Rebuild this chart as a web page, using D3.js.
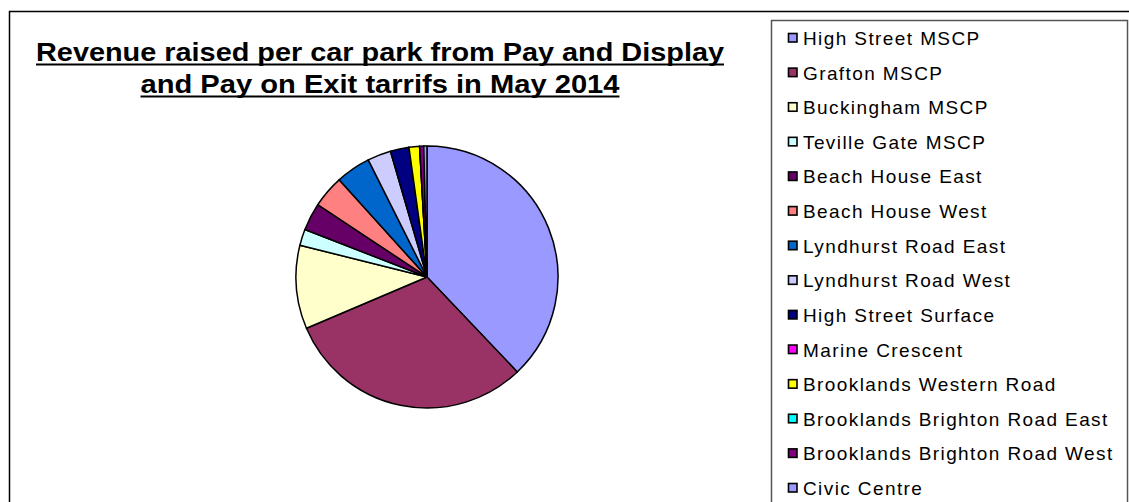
<!DOCTYPE html>
<html>
<head>
<meta charset="utf-8">
<script src="https://cdn.jsdelivr.net/npm/d3@7"></script>
<style>
  html, body { margin: 0; padding: 0; background: #fff; }
  svg { display: block; }
</style>
</head>
<body>
<svg id="chart" width="1129" height="502"></svg>
<script>
const categories = [
  "High Street MSCP", "Grafton MSCP", "Buckingham MSCP", "Teville Gate MSCP",
  "Beach House East", "Beach House West", "Lyndhurst Road East", "Lyndhurst Road West",
  "High Street Surface", "Marine Crescent", "Brooklands Western Road",
  "Brooklands Brighton Road East", "Brooklands Brighton Road West", "Civic Centre"
];
const values = [37.9, 30.7, 10.3, 2.0, 3.4, 4.0, 4.3, 2.9, 2.3, 0.0, 1.3, 0.0, 0.5, 0.4];
const colors = [
  "#9999FF", "#993366", "#FFFFCC", "#CCFFFF", "#660066", "#FF8080", "#0066CC",
  "#CCCCFF", "#000080", "#FF00FF", "#FFFF00", "#00FFFF", "#800080", "#9999FF"
];
const titleLines = [
  "Revenue raised per car park from Pay and Display",
  "and Pay on Exit tarrifs in May 2014"
];

const svg = d3.select("#chart");

// outer chart border
svg.append("rect").attr("x", 9.5).attr("y", 11.5).attr("width", 1140).attr("height", 520)
  .attr("fill", "#fff").attr("stroke", "#000").attr("stroke-width", 1.5);

// title
const title = svg.append("g");
const titleY = [61, 93];
const titleW = [688, 479];
titleLines.forEach((t, i) => {
  title.append("text")
    .attr("x", 380).attr("y", titleY[i])
    .attr("text-anchor", "middle")
    .attr("font-family", "Liberation Sans, Arial, sans-serif")
    .attr("font-weight", "bold")
    .attr("font-size", 25)
    .attr("textLength", titleW[i])
    .attr("lengthAdjust", "spacingAndGlyphs")
    .attr("fill", "#000")
    .text(t);
  title.append("line")
    .attr("x1", 380 - titleW[i] / 2).attr("x2", 380 + titleW[i] / 2)
    .attr("y1", titleY[i] + 3.5).attr("y2", titleY[i] + 3.5)
    .attr("stroke", "#000").attr("stroke-width", 2);
});

// pie
const cx = 427, cy = 277, r = 131;
const pie = d3.pie().sort(null).value(d => d.v).startAngle(0).endAngle(2 * Math.PI);
const arc = d3.arc().innerRadius(0).outerRadius(r);
const data = categories.map((c, i) => ({ c, v: values[i], col: colors[i] }));
svg.append("g").attr("transform", `translate(${cx},${cy})`)
  .selectAll("path").data(pie(data)).join("path")
  .attr("d", arc)
  .attr("fill", d => d.data.col)
  .attr("stroke", "#000")
  .attr("stroke-width", 1.5)
  .attr("stroke-linejoin", "round");

// legend
svg.append("rect").attr("x", 771.5).attr("y", 20.5).attr("width", 356).attr("height", 500)
  .attr("fill", "#fff").attr("stroke", "#555").attr("stroke-width", 1.5);
const ly = d3.scalePoint().domain(categories).range([38, 488]);
const lg = svg.append("g").selectAll("g").data(data).join("g")
  .attr("transform", d => `translate(788,${ly(d.c)})`);
lg.append("rect").attr("x", 0.5).attr("y", -4.5).attr("width", 8.5).attr("height", 8.5)
  .attr("fill", d => d.col).attr("stroke", "#000").attr("stroke-width", 1.6);
lg.append("text").attr("x", 15).attr("y", 7)
  .attr("font-family", "Liberation Sans, Arial, sans-serif")
  .attr("font-size", 19).attr("letter-spacing", 1.4).attr("fill", "#000")
  .text(d => d.c);
</script>
</body>
</html>
